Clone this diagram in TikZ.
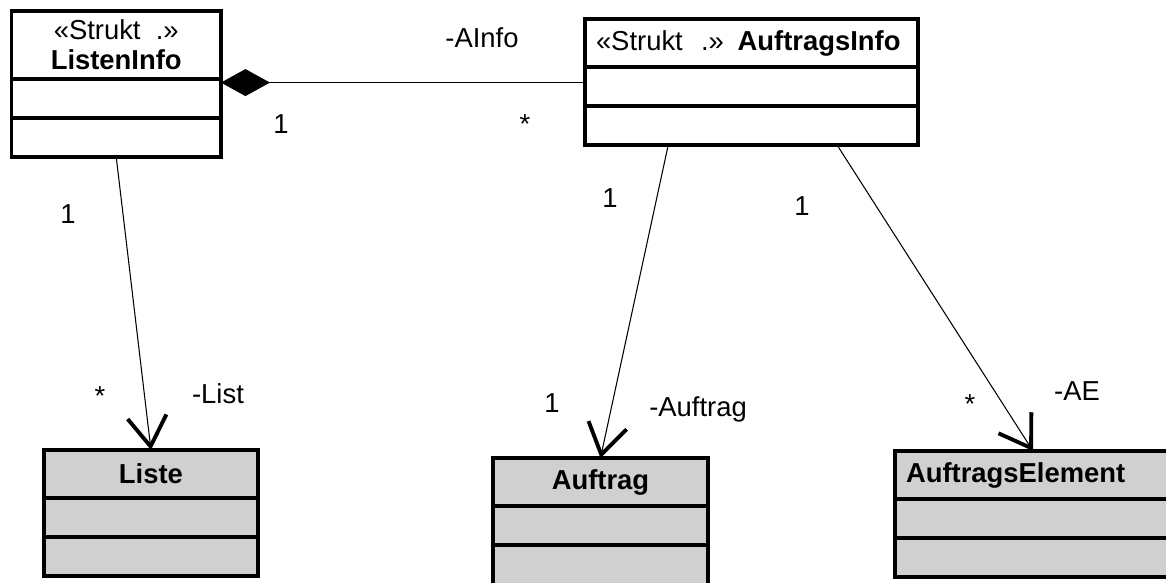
\documentclass[tikz,border=0pt]{standalone}
\usepackage{fontspec}
\setmainfont{Liberation Sans}
\usetikzlibrary{arrows.meta,positioning,calc}
\definecolor{klassgrau}{RGB}{208,208,208}
\newcommand{\kfont}{\fontsize{15.6}{17}\selectfont}
\tikzset{%
  kopf/.style={draw, line width=2pt, inner sep=0pt, outer sep=0pt, minimum height=0.96cm, anchor=north west, font=\kfont},
  fach/.style={draw, line width=2pt, inner sep=0pt, outer sep=0pt, minimum height=0.78cm},
  grau/.style={fill=klassgrau},
  links/.style={align=left, inner xsep=0.22cm},
  assoc/.style={draw, line width=0.6pt, -{Straight Barb[length=0.6cm, width=0.78cm, line width=2.2pt]}},
  komp/.style={draw, line width=0.6pt, {Diamond[length=0.98cm, width=0.54cm]}-},
  mult/.style={anchor=base, font=\kfont, inner sep=0pt},
}
\newcommand{\faecher}[4]{%
  \node (#1-a) [fach, #3, minimum width=#2, below=0pt of #1] {};
  \node (#1-o) [fach, #3, minimum width=#2, below=0pt of #1-a, #4] {};}

\begin{document}
\begin{tikzpicture}[x=0.02cm, y=-0.02cm]
  \clip (0,0) rectangle (1166,582);

  \node (ListenInfo) [kopf, minimum width=4.19cm, minimum height=1.36cm, align=center] at (11.5,11) {«Strukt\ \ .»\\\textbf{ListenInfo}\hspace{0.35cm}};
  \faecher{ListenInfo}{4.19cm}{}{}
  \node (AuftragsInfo) [kopf, links, minimum width=6.66cm, text width=6.22cm] at (585,19) {«Strukt\ \ .» \textbf{AuftragsInfo}};
  \faecher{AuftragsInfo}{6.66cm}{}{}

  \node (Liste) [kopf, grau, minimum width=4.28cm] at (44,450) {\textbf{Liste}};
  \faecher{Liste}{4.28cm}{grau}{}
  \node (Auftrag) [kopf, grau, minimum width=4.3cm] at (493,458) {\textbf{Auftrag}};
  \faecher{Auftrag}{4.3cm}{grau}{minimum height=1.2cm}
  \node (AuftragsElement) [kopf, grau, links, minimum width=5.6cm, text width=5.16cm] at (895,451) {\textbf{AuftragsElement}};
  \faecher{AuftragsElement}{5.6cm}{grau}{}

  \coordinate (kompende) at ($(AuftragsInfo-a.north west)!0.4!(AuftragsInfo-a.south west)$);
  \path [komp] (ListenInfo-a.east |- kompende) -- (kompende);
  \path [assoc] (ListenInfo-o.south) -- (Liste.north);
  \path [assoc] ($(AuftragsInfo-o.south west)!0.25!(AuftragsInfo-o.south east)$) -- (Auftrag.north);
  \path [assoc] ($(AuftragsInfo-o.south west)!0.757!(AuftragsInfo-o.south east)$) -- ($(AuftragsElement.north west)+(138,0)$);

  \node (mAInfo) [mult] at (482,47) {-AInfo};
  \node (mKomp1) [mult] at (281,133) {1};
  \node (mKompS) [mult] at (525,133) {*};
  \node (mList1) [mult] at (68,223) {1};
  \node (mListS) [mult] at (100,405) {*};
  \node (mList) [mult] at (218,403) {-List};
  \node (mAuf1a) [mult] at (610,207) {1};
  \node (mAE1) [mult] at (802,215) {1};
  \node (mAuf1b) [mult] at (552,412) {1};
  \node (mAuftrag) [mult] at (698,416) {-Auftrag};
  \node (mAES) [mult] at (970,413) {*};
  \node (mAE) [mult] at (1077,400) {-AE};
\end{tikzpicture}
\end{document}
